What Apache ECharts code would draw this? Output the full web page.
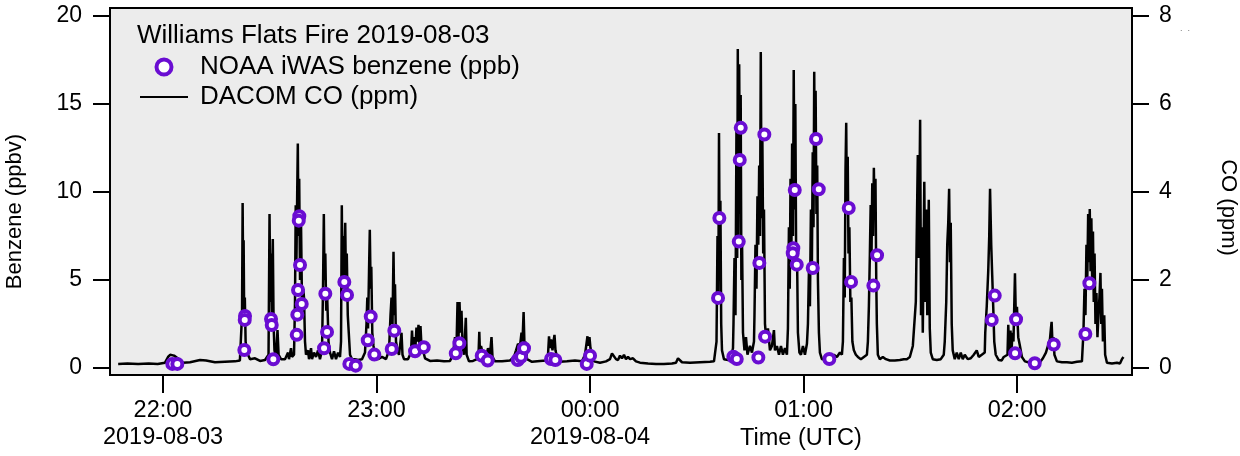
<!DOCTYPE html>
<html>
<head>
<meta charset="utf-8">
<title>Williams Flats Fire 2019-08-03</title>
<script src="https://cdn.jsdelivr.net/npm/echarts@6/dist/echarts.min.js"></script>
<style>
  html, body { margin: 0; padding: 0; background: #fff; }
  #chart { width: 1240px; height: 456px; }
</style>
</head>
<body>
<div id="chart"></div>
<script>
// all times are minutes after 2019-08-03 22:00 UTC
const T0 = Date.UTC(2019, 7, 3, 22, 0, 0)
const xRange = [-14.9, 272.3]
const xTicks = [0, 60, 120, 180, 240]
const xTickLabels = ['22:00\n2019-08-03', '23:00', '00:00\n2019-08-04', '01:00', '02:00']
const benzTicks = [0, 5, 10, 15, 20]
const coTicks = [0, 2, 4, 6, 8]

// NOAA iWAS benzene samples
const benzMin = [2.61, 4.02, 23.04, 22.96, 22.85, 30.35, 30.55, 31.0, 38.30, 38.14,
  38.50, 37.94, 38.98, 37.74, 37.57, 45.61, 46.09, 45.25, 50.95, 51.71,
  52.36, 54.15, 58.37, 57.53, 59.38, 65.00, 64.27, 70.82, 73.27, 82.26,
  83.27, 89.56, 91.25, 99.68, 100.61, 101.45, 109.04, 110.25, 119.07, 120.0,
  156.34, 155.97, 162.35, 162.07, 161.79, 160.27, 161.23, 168.98, 167.58, 169.18,
  167.30, 177.53, 177.13, 176.96, 178.09, 183.51, 184.27, 182.58, 187.25, 192.70,
  193.35, 200.66, 199.62, 233.73, 232.89, 239.72, 239.44, 244.97, 250.31, 260.32, 259.19]
const benzPpb = [0.23, 0.23, 2.95, 2.73, 1.02, 2.78, 2.44, 0.49, 8.62, 8.37,
  5.85, 4.43, 3.64, 3.03, 1.88, 4.22, 2.05, 1.12, 4.89, 4.15,
  0.23, 0.13, 2.92, 1.57, 0.76, 2.12, 1.08, 0.95, 1.18, 0.83,
  1.40, 0.70, 0.42, 0.45, 0.64, 1.12, 0.51, 0.45, 0.23, 0.70,
  8.52, 3.98, 13.64, 11.82, 7.18, 0.64, 0.51, 13.26, 5.97, 1.78,
  0.59, 10.11, 6.80, 6.52, 5.87, 13.01, 10.15, 5.68, 0.51, 9.09,
  4.89, 6.40, 4.68, 4.11, 2.73, 2.77, 0.83, 0.27, 1.33, 4.81, 1.93]

// DACOM CO trace, [minutes, ppm]
const coTrace = [
  [-12.6, 0.09], [-10, 0.10], [-7, 0.09], [-4, 0.10], [-1.5, 0.09], [0.56, 0.12], [1.4, 0.25], [2.0, 0.3],
  [2.5, 0.34], [3.1, 0.28], [3.65, 0.3], [4.5, 0.2], [5.6, 0.12], [7.6, 0.13], [10.4, 0.18], [12.1, 0.17],
  [14.6, 0.13], [17.4, 0.14], [20.2, 0.15], [21.6, 0.17],
  [21.92, 0.2], [22.2, 1.2], [22.37, 3.75], [22.54, 1.8], [22.65, 2.9], [22.82, 1.0], [22.99, 1.6], [23.21, 0.6],
  [23.6, 0.35], [24.45, 0.2], [25.85, 0.22], [27.26, 0.16], [28.66, 0.18],
  [29.65, 0.3], [29.93, 3.5], [30.15, 1.5], [30.35, 2.6], [30.57, 1.2], [30.85, 2.93], [31.07, 1.0], [31.32, 0.4],
  [31.75, 0.25], [32.17, 0.86], [32.48, 0.3], [33.16, 0.2], [34.28, 0.2], [35.13, 0.35], [35.4, 0.2], [35.97, 0.45],
  [36.25, 0.25],
  [36.81, 0.3], [37.09, 1.5], [37.29, 3.7], [37.46, 2.2], [37.71, 4.0], [37.88, 5.1], [38.07, 3.0], [38.27, 4.3],
  [38.5, 2.0], [38.78, 3.3], [39.06, 1.4], [39.4, 1.8], [39.62, 1.6], [39.9, 0.6], [40.18, 0.3], [40.75, 0.4],
  [41.03, 0.2], [41.59, 0.45], [41.87, 0.2], [42.43, 0.35], [43.0, 0.25], [43.56, 0.4], [44.1, 0.2],
  [44.68, 0.4], [44.96, 1.8], [45.19, 3.5], [45.38, 2.0], [45.61, 2.6], [45.86, 1.3], [46.14, 1.6], [46.51, 0.6],
  [46.93, 0.35], [47.49, 0.2], [48.05, 0.38], [48.61, 0.2], [49.18, 0.35], [49.74, 0.25],
  [50.02, 0.6], [50.24, 3.7], [50.44, 1.8], [50.66, 3.0], [50.86, 2.0], [51.2, 3.3], [51.42, 1.8], [51.64, 2.6],
  [51.92, 1.2], [52.2, 0.8], [52.55, 0.3], [53.11, 0.2], [53.95, 0.2], [54.8, 0.18], [55.92, 0.2], [56.76, 0.35],
  [57.18, 1.0], [57.41, 1.6], [57.61, 0.9], [57.89, 2.2], [58.11, 3.14], [58.34, 1.8], [58.53, 2.3], [58.81, 0.8],
  [59.15, 0.5], [59.57, 0.25], [60.42, 0.2], [61.54, 0.25], [62.66, 0.2], [63.51, 0.4],
  [63.93, 1.2], [64.21, 1.6], [64.49, 1.0], [64.77, 2.64], [65.0, 1.2], [65.19, 1.9], [65.47, 0.6], [65.9, 0.4],
  [66.32, 0.3], [66.74, 0.6], [67.02, 0.8], [67.3, 0.3], [67.72, 0.2], [68.84, 0.2],
  [69.69, 0.35], [69.97, 0.85], [70.24, 0.4], [70.52, 0.7], [70.95, 0.5], [71.22, 0.92], [71.5, 0.6], [71.79, 0.98],
  [72.07, 0.55], [72.35, 0.95], [72.63, 0.5], [73.06, 0.4], [73.62, 0.22], [75.03, 0.16], [77.0, 0.17], [78.96, 0.15],
  [80.65, 0.16],
  [81.49, 0.3], [82.05, 0.7], [82.48, 0.5], [82.76, 1.5], [83.04, 0.7], [83.32, 1.5], [83.6, 0.8], [83.88, 1.3],
  [84.16, 0.5], [84.58, 0.3], [85.09, 1.14], [85.32, 0.3], [85.99, 0.15], [87.11, 0.16], [88.23, 0.2],
  [88.66, 0.3], [88.88, 0.82], [89.08, 0.3], [89.36, 0.5], [89.78, 0.35], [90.2, 0.4], [90.76, 0.25], [91.33, 0.45],
  [91.89, 0.3], [92.31, 0.7], [92.59, 0.25], [93.29, 0.15], [95.26, 0.15], [97.51, 0.17],
  [98.63, 0.25], [99.2, 0.4], [99.76, 0.55], [100.32, 0.5], [100.74, 0.8], [101.02, 0.6], [101.33, 1.27], [101.58, 0.5],
  [101.86, 0.6], [102.28, 0.2], [103.69, 0.14], [105.94, 0.16], [107.62, 0.17],
  [108.19, 0.3], [108.47, 0.72], [108.75, 0.45], [109.03, 0.65], [109.45, 0.4], [109.73, 0.6], [110.01, 0.75], [110.29, 0.4],
  [110.71, 0.25], [111.56, 0.14], [113.52, 0.15], [115.77, 0.17], [117.74, 0.15],
  [118.58, 0.3], [119.0, 0.55], [119.28, 0.72], [119.56, 0.5], [119.84, 0.7], [120.12, 0.45], [120.55, 0.3], [121.11, 0.15],
  [122.8, 0.12], [124.48, 0.15],
  [125.61, 0.2], [126.17, 0.33], [126.73, 0.3], [127.29, 0.2], [127.86, 0.18], [128.42, 0.28], [128.98, 0.22], [129.54, 0.3],
  [130.1, 0.2], [130.67, 0.25], [131.23, 0.2], [132.07, 0.22], [132.91, 0.15], [134.04, 0.12], [136.29, 0.1], [138.53, 0.09],
  [140.78, 0.09], [143.03, 0.1], [144.15, 0.12], [144.72, 0.22], [145.28, 0.18], [145.84, 0.13], [148.09, 0.12], [150.9, 0.13],
  [153.71, 0.14], [154.83, 0.15],
  [155.54, 0.6], [155.82, 3.0], [156.05, 1.5], [156.24, 5.34], [156.44, 2.5], [156.63, 3.8], [156.86, 1.0], [157.08, 0.4],
  [157.64, 0.2], [158.77, 0.18], [159.61, 0.25], [160.17, 0.45],
  [160.31, 1.0], [160.59, 2.5], [160.87, 1.2], [161.15, 5.5], [161.35, 2.5], [161.52, 7.25], [161.72, 3.0], [161.91, 6.9],
  [162.14, 3.5], [162.33, 6.2], [162.53, 2.0], [162.7, 3.0], [162.98, 0.8], [163.4, 0.4], [163.82, 0.7], [164.24, 0.3],
  [164.94, 0.5], [165.5, 0.35], [166.07, 0.6],
  [166.21, 1.2], [166.49, 2.8], [166.77, 1.8], [167.05, 3.9], [167.28, 2.8], [167.53, 4.6], [167.76, 3.0], [167.98, 7.18],
  [168.21, 3.4], [168.41, 5.4], [168.66, 2.6], [168.88, 3.6], [169.16, 1.0], [169.58, 0.6], [170.0, 0.9], [170.56, 0.4],
  [171.12, 0.5], [171.68, 0.86], [171.96, 0.4], [172.52, 0.5], [173.09, 0.3], [173.65, 0.5], [174.21, 0.3], [174.77, 0.45],
  [175.33, 0.3],
  [175.61, 0.9], [175.89, 3.2], [176.12, 1.8], [176.34, 4.3], [176.57, 2.5], [176.79, 5.1], [177.02, 3.0], [177.24, 6.77],
  [177.47, 3.6], [177.69, 6.0], [177.92, 2.5], [178.14, 2.8], [178.42, 0.8], [178.84, 0.35], [179.27, 0.3], [179.83, 0.5],
  [180.39, 0.3], [180.95, 0.55],
  [181.23, 1.0], [181.51, 2.2], [181.79, 1.4], [182.07, 3.6], [182.35, 2.4], [182.58, 4.9], [182.8, 3.2], [183.0, 6.73],
  [183.19, 4.0], [183.39, 6.3], [183.62, 3.5], [183.84, 4.6], [184.04, 2.0], [184.32, 0.8], [184.6, 0.35], [185.16, 0.2],
  [186.0, 0.2], [186.57, 0.3], [187.41, 0.2], [188.53, 0.3], [189.38, 0.25], [190.22, 0.35], [190.78, 0.3],
  [191.06, 0.6], [191.34, 2.5], [191.57, 1.6], [191.79, 4.5], [191.99, 5.57], [192.18, 3.5], [192.41, 4.8], [192.63, 2.6],
  [192.88, 3.2], [193.16, 1.5], [193.44, 1.6], [193.72, 0.6], [194.14, 0.4], [194.7, 0.3], [195.27, 0.25], [196.11, 0.2],
  [196.95, 0.25], [197.8, 0.3],
  [198.08, 0.6], [198.36, 1.4], [198.64, 2.6], [198.86, 3.7], [199.09, 2.5], [199.31, 4.2], [199.54, 3.0], [199.76, 4.55],
  [199.98, 3.4], [200.21, 4.3], [200.43, 2.0], [200.6, 1.0], [200.88, 0.3], [201.44, 0.2], [202.28, 0.25], [203.13, 0.2],
  [204.25, 0.17], [205.65, 0.17], [207.06, 0.18], [208.18, 0.2], [209.03, 0.2],
  [209.87, 0.25], [210.71, 0.5], [211.55, 1.5], [212.11, 4.84], [212.39, 2.5], [212.76, 5.64], [213.01, 1.2], [213.23, 3.2],
  [213.51, 0.8], [213.93, 4.23], [214.21, 1.5], [214.49, 3.6], [214.77, 1.2], [215.19, 3.82], [215.47, 0.9], [215.75, 0.35],
  [216.31, 0.2], [217.44, 0.18], [218.56, 0.2], [219.4, 0.3],
  [219.68, 0.6], [220.1, 1.5], [220.38, 2.8], [220.66, 3.3], [220.91, 4.07], [221.14, 2.4], [221.36, 3.3], [221.64, 1.0],
  [221.92, 0.4], [222.49, 0.2], [223.05, 0.35], [223.61, 0.2], [224.18, 0.35], [224.74, 0.2], [225.3, 0.3], [226.14, 0.2],
  [226.99, 0.22], [227.83, 0.3], [228.67, 0.4], [229.23, 0.25], [230.08, 0.3], [230.92, 0.35],
  [231.06, 0.8], [231.48, 1.4], [231.9, 2.2], [232.18, 3.0], [232.41, 4.07], [232.74, 2.8], [233.02, 2.1], [233.3, 1.4],
  [233.59, 0.6], [234.01, 0.3], [234.85, 0.18], [235.69, 0.17], [236.26, 0.25],
  [237.31, 0.3], [237.53, 0.98], [237.81, 0.3], [238.15, 0.85], [238.43, 0.35], [238.71, 0.8], [238.99, 0.6], [239.41, 2.15],
  [239.69, 1.0], [239.97, 1.39], [240.33, 0.7], [240.81, 0.5], [241.37, 0.25], [242.21, 0.15], [243.62, 0.12], [245.02, 0.12],
  [246.43, 0.13],
  [247.27, 0.22], [248.11, 0.35], [248.67, 0.5], [249.24, 0.65], [249.52, 0.9], [249.71, 1.05], [249.93, 0.6], [250.21, 0.7],
  [250.5, 0.3], [251.2, 0.15], [252.61, 0.13], [254.01, 0.13], [255.42, 0.12], [256.83, 0.14], [258.23, 0.15],
  [258.65, 0.8], [258.94, 1.8], [259.22, 1.2], [259.5, 2.8], [259.72, 1.9], [259.98, 3.5], [260.2, 2.4], [260.43, 3.61],
  [260.65, 2.2], [260.88, 3.4], [261.1, 2.0], [261.33, 3.1], [261.55, 1.5], [261.78, 2.6], [262.03, 1.0], [262.31, 1.7],
  [262.59, 0.7], [262.87, 1.2], [263.15, 1.6], [263.43, 2.16], [263.66, 1.0], [263.85, 1.8], [264.13, 0.6], [264.5, 1.2],
  [264.75, 0.3], [265.26, 0.12], [266.66, 0.1], [268.07, 0.12], [268.91, 0.1], [269.47, 0.2], [269.89, 0.25]
]

const FONT = '"Liberation Sans", Arial, sans-serif'
const PURPLE = '#6a0dd2'

// minutes -> UTC timestamp (ms)
const toTime = m => T0 + m * 60000

const xLabel = (val) => {
  const i = xTicks.findIndex(m => Math.abs(toTime(m) - val) < 1000)
  return i >= 0 ? xTickLabels[i] : ''
}

const axisLine = { show: true, onZero: false, lineStyle: { color: '#000', width: 2 } }

const chart = echarts.init(document.getElementById('chart'))
const option = {
  animation: false,
  backgroundColor: '#fff',
  textStyle: { fontFamily: FONT, color: '#000' },
  title: {
    text: 'Williams Flats Fire 2019-08-03',
    left: 137,
    top: 23,
    padding: 0,
    textStyle: { fontFamily: FONT, fontSize: 26, lineHeight: 26, fontWeight: 'normal', color: '#000' }
  },
  legend: {
    orient: 'vertical',
    left: 140,
    top: 54,
    padding: 0,
    itemWidth: 48,
    itemHeight: 15,
    itemGap: 4,
    selectedMode: false,
    data: [
      { name: 'NOAA iWAS benzene (ppb)', itemStyle: { color: '#fff', borderColor: PURPLE, borderWidth: 4 } },
      // plain line, no marker
      { name: 'DACOM CO (ppm)', icon: 'path://M0,0H48V2H0Z', itemStyle: { color: '#000', borderWidth: 0 } }
    ],
    textStyle: { fontFamily: FONT, fontSize: 26, lineHeight: 26, color: '#000', padding: [0, 0, 0, 7] }
  },
  grid: {
    left: 110,
    right: 108,
    top: 8,
    bottom: 81,
    outerBoundsMode: 'none',
    show: true,
    backgroundColor: '#ececec',
    borderColor: '#000',
    borderWidth: 2
  },
  xAxis: {
    type: 'value',
    min: toTime(xRange[0]),
    max: toTime(xRange[1]),
    name: 'Time (UTC)',
    nameLocation: 'middle',
    nameGap: 52,
    nameMoveOverlap: false,
    nameTextStyle: { fontFamily: FONT, fontSize: 23.5, color: '#000', padding: [0, 0, 0, 360] },
    axisLine: axisLine,
    axisTick: { show: true, length: 18, lineStyle: { color: '#000', width: 2 }, customValues: xTicks.map(toTime) },
    axisLabel: {
      customValues: xTicks.map(toTime),
      formatter: xLabel,
      fontFamily: FONT,
      fontSize: 23.5,
      lineHeight: 27,
      margin: 22,
      color: '#000'
    },
    splitLine: { show: false }
  },
  yAxis: [
    {
      type: 'value',
      position: 'left',
      min: -0.4,
      max: 20.45,
      name: 'Benzene (ppbv)',
      nameLocation: 'middle',
      nameGap: 84,
      nameMoveOverlap: false,
      nameTextStyle: { fontFamily: FONT, fontSize: 22, color: '#000', padding: [0, 40, 0, 0] },
      axisLine: axisLine,
      axisTick: { show: true, length: 17, lineStyle: { color: '#000', width: 2 }, customValues: benzTicks },
      axisLabel: { customValues: benzTicks, fontFamily: FONT, fontSize: 23, margin: 28, color: '#000' },
      splitLine: { show: false }
    },
    {
      type: 'value',
      position: 'right',
      min: -0.16,
      max: 8.18,
      name: 'CO (ppm)',
      nameLocation: 'middle',
      nameRotate: -90,
      nameGap: 85,
      nameMoveOverlap: false,
      nameTextStyle: { fontFamily: FONT, fontSize: 22, color: '#000', padding: [0, 0, 0, 32] },
      axisLine: axisLine,
      axisTick: { show: true, length: 17, lineStyle: { color: '#000', width: 2 }, customValues: coTicks },
      axisLabel: { customValues: coTicks, fontFamily: FONT, fontSize: 23, margin: 27, color: '#000' },
      splitLine: { show: false }
    }
  ],
  graphic: [
    { type: 'text', left: 1180, top: 24, style: { text: '.  .', fontSize: 9, fill: '#777' } }
  ],
  series: [
    {
      name: 'DACOM CO (ppm)',
      type: 'line',
      yAxisIndex: 1,
      symbol: 'none',
      z: 2,
      lineStyle: { color: '#000', width: 2.5 },
      itemStyle: { color: '#000' },
      data: coTrace.map(([m, v]) => [toTime(m), v])
    },
    {
      name: 'NOAA iWAS benzene (ppb)',
      type: 'scatter',
      yAxisIndex: 0,
      symbol: 'circle',
      symbolSize: 10,
      z: 3,
      itemStyle: { color: '#fff', borderColor: PURPLE, borderWidth: 4, opacity: 1 },
      data: benzMin.map((m, i) => [toTime(m), benzPpb[i]])
    }
  ]
}
chart.setOption(option)
</script>
</body>
</html>
